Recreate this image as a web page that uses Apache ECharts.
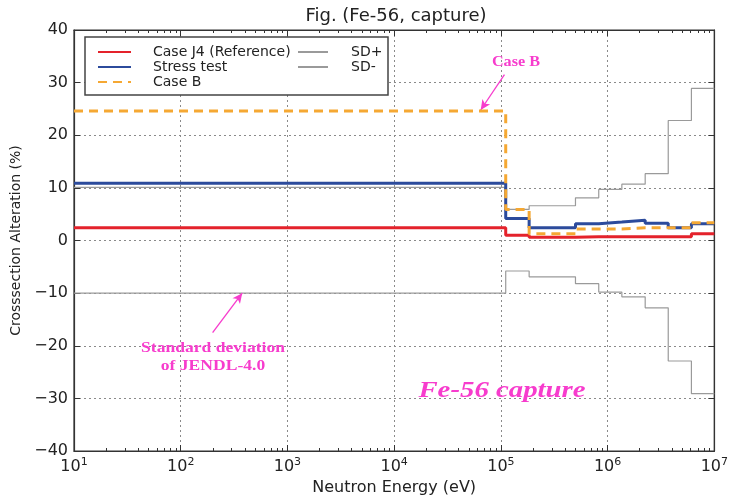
<!DOCTYPE html>
<html><head><meta charset="utf-8">
<script src="https://cdn.jsdelivr.net/npm/echarts@6/dist/echarts.min.js"></script>
<style>html,body{margin:0;padding:0;background:#fff}#c{width:731px;height:501px}</style>
</head><body><div id="c"></div>
<script>
// bin edges (eV) of the step curves
const binEdges = [10, 1.11e5, 1.84e5, 5.0e5, 8.26e5, 1.36e6, 2.25e6, 3.7e6, 6.1e6, 1e7];
const caseJ4 = [2.4, 1.0, 0.6, 0.7, 0.7, 0.7, 0.7, 0.7, 1.3];
const stressTest = [10.9, 4.2, 2.4, 3.2, 3.5, 3.85, 3.3, 2.4, 3.2];
const caseB = [24.6, 5.9, 1.3, 2.2, 2.2, 2.4, 2.4, 2.4, 3.35];
const sdPlus = [10.1, 5.9, 6.6, 8.1, 9.7, 10.7, 12.7, 22.8, 28.9];
const sdMinus = [-10.0, -5.8, -6.9, -8.2, -9.8, -10.7, -12.8, -22.9, -29.1];
const seriesNames = ['Case J4 (Reference)', 'Stress test', 'Case B', 'SD+', 'SD-'];
const yMin = -40, yMax = 40, yInterval = 10;
const xMin = 10, xMax = 1e7;
// annotation arrows [tail, head] in data coordinates
const arrowCaseB = [[1.08e5, 31.5], [6.47e4, 24.8]];
const arrowSD = [[199, -17.5], [377, -10.0]];

function stepData(vals) {
  const d = vals.map((v, i) => [binEdges[i], v]);
  d.push([binEdges[binEdges.length - 1], vals[vals.length - 1]]);
  return d;
}
const pink = '#f73ccd';
const txt = '#222';

const chart = echarts.init(document.getElementById('c'), null, {renderer: 'canvas'});
const lineSeries = (name, vals, color, width, type, z) => ({
  name, type: 'line', data: stepData(vals), step: 'end', showSymbol: false, symbol: 'none',
  lineStyle: {color, width, type}, itemStyle: {color}, z, silent: true
});
const sdM = lineSeries('SD-', sdMinus, '#9a9a9a', 1.2, 'solid', 2);
sdM.markLine = {
  silent: true, symbol: ['none', 'arrow'], symbolSize: [7, 10], animation: false,
  lineStyle: {color: pink, width: 1.3, type: 'solid'}, label: {show: false},
  data: [
    [{coord: arrowSD[0]}, {coord: arrowSD[1]}],
    [{coord: arrowCaseB[0]}, {coord: arrowCaseB[1]}]
  ]
};
const legendText = {fontFamily: 'DejaVu Sans', fontSize: 14, color: txt};
const legendBase = {orient: 'vertical', top: 45, padding: 0, itemHeight: 14, itemGap: 1, z: 7,
  selectedMode: false, itemStyle: {opacity: 0}};
chart.setOption({
  animation: false,
  backgroundColor: '#fff',
  title: {
    text: 'Fig. (Fe-56, capture)', left: 396, top: 7, textAlign: 'center', padding: 0,
    textStyle: {fontFamily: 'DejaVu Sans', fontSize: 18, fontWeight: 'normal', color: txt}
  },
  grid: {left: 74, right: 13, top: 30, bottom: 49, show: true, borderColor: '#333', borderWidth: 1.2, backgroundColor: 'transparent'},
  legend: [
    Object.assign({data: seriesNames.slice(0, 3), left: 97, itemWidth: 33,
      textStyle: Object.assign({padding: [0, 0, 0, 17]}, legendText)}, legendBase),
    Object.assign({data: seriesNames.slice(3), left: 297, itemWidth: 30,
      textStyle: Object.assign({padding: [0, 0, 0, 18]}, legendText)}, legendBase)
  ],
  xAxis: [{
    type: 'log', logBase: 10, min: xMin, max: xMax, position: 'bottom',
    name: 'Neutron Energy (eV)', nameLocation: 'middle', nameGap: 29,
    nameTextStyle: {fontFamily: 'DejaVu Sans', fontSize: 16, color: txt},
    axisLine: {show: true, onZero: false, lineStyle: {color: '#333', width: 1.2}},
    axisTick: {show: true, inside: true, length: 6, lineStyle: {color: '#333'}},
    minorTick: {show: true, splitNumber: 9, length: 3, lineStyle: {color: '#333'}},
    splitLine: {show: true, lineStyle: {color: '#8a8a8a', type: [2, 3], width: 1}},
    axisLabel: {
      margin: 6, fontFamily: 'DejaVu Sans', fontSize: 16, color: txt,
      formatter: v => '10{s|' + Math.round(Math.log10(v)) + '}',
      rich: {s: {fontFamily: 'DejaVu Sans', fontSize: 11, color: txt, padding: [0, 0, 9, 0]}}
    }
  }, {
    type: 'log', logBase: 10, min: xMin, max: xMax, position: 'top',
    axisLine: {show: true, onZero: false, lineStyle: {color: '#333', width: 1.2}},
    axisTick: {show: true, inside: true, length: 6, lineStyle: {color: '#333'}},
    minorTick: {show: true, splitNumber: 9, length: 3, lineStyle: {color: '#333'}},
    splitLine: {show: false}, axisLabel: {show: false}
  }],
  yAxis: [{
    type: 'value', min: yMin, max: yMax, interval: yInterval,
    name: 'Crosssection Alteration (%)', nameLocation: 'middle', nameGap: 45,
    nameTextStyle: {fontFamily: 'DejaVu Sans', fontSize: 14, color: txt},
    axisLine: {show: true, onZero: false, lineStyle: {color: '#333', width: 1.2}},
    axisTick: {show: true, inside: true, length: 6, lineStyle: {color: '#333'}},
    splitLine: {show: true, lineStyle: {color: '#8a8a8a', type: [2, 3], width: 1}},
    axisLabel: {margin: 6, fontFamily: 'DejaVu Sans', fontSize: 16, color: txt,
      formatter: v => v < 0 ? '\u2212' + Math.abs(v) : String(v)}
  }, {
    type: 'value', min: yMin, max: yMax, interval: yInterval, position: 'right',
    axisLine: {show: true, onZero: false, lineStyle: {color: '#333', width: 1.2}},
    axisTick: {show: true, inside: true, length: 6, lineStyle: {color: '#333'}},
    splitLine: {show: false}, axisLabel: {show: false}
  }],
  graphic: [
    {type: 'rect', z: 6, shape: {x: 85, y: 37, width: 303, height: 58},
     style: {fill: '#fff', stroke: '#444', lineWidth: 1.5}},
    {type: 'text', x: 516, y: 62, z: 8, scaleX: 1.08, style: {text: 'Case B', fill: pink, font: 'bold 15px "Liberation Serif"', align: 'center', verticalAlign: 'middle'}},
    {type: 'text', x: 213, y: 348, z: 8, scaleX: 1.17, style: {text: 'Standard deviation', fill: pink, font: 'bold 15px "Liberation Serif"', align: 'center', verticalAlign: 'middle'}},
    {type: 'text', x: 213, y: 366, z: 8, scaleX: 1.17, style: {text: 'of JENDL-4.0', fill: pink, font: 'bold 15px "Liberation Serif"', align: 'center', verticalAlign: 'middle'}},
    {type: 'text', x: 502, y: 391, z: 8, scaleX: 1.2, style: {text: 'Fe-56 capture', fill: pink, font: 'italic bold 24px "Liberation Serif"', align: 'center', verticalAlign: 'middle'}}
  ],
  series: [
    lineSeries('Case J4 (Reference)', caseJ4, '#e4222b', 3, 'solid', 4),
    lineSeries('Stress test', stressTest, '#2c4b9c', 3, 'solid', 4),
    lineSeries('Case B', caseB, '#f5a833', 3, [9, 6], 5),
    lineSeries('SD+', sdPlus, '#9a9a9a', 1.2, 'solid', 2),
    sdM
  ]
});
</script></body></html>
